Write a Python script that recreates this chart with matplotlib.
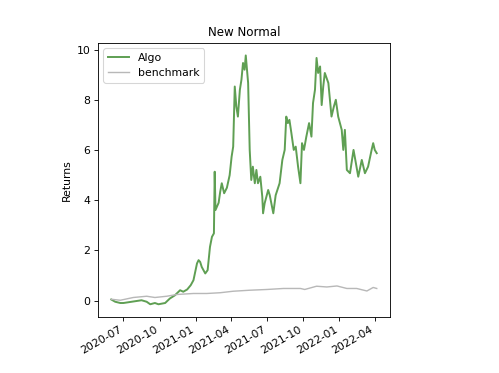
import matplotlib
matplotlib.use("Agg")
import matplotlib.pyplot as plt
import matplotlib.dates as mdates
import pandas as pd

algo_dates = ["2020-05-31", "2020-06-10", "2020-06-23", "2020-07-01", "2020-07-26", "2020-08-16",
              "2020-08-29", "2020-09-07", "2020-09-19", "2020-09-28", "2020-10-15", "2020-10-27",
              "2020-11-09", "2020-11-22", "2020-11-30", "2020-12-10", "2020-12-19", "2020-12-26",
              "2021-01-04", "2021-01-08", "2021-01-12", "2021-01-16", "2021-01-25", "2021-01-31",
              "2021-02-06", "2021-02-11", "2021-02-16", "2021-02-18", "2021-02-20", "2021-02-28",
              "2021-03-04", "2021-03-08", "2021-03-14", "2021-03-21", "2021-03-28", "2021-04-02",
              "2021-04-06", "2021-04-10", "2021-04-14", "2021-04-18", "2021-04-23", "2021-04-27",
              "2021-05-01", "2021-05-05", "2021-05-08", "2021-05-14", "2021-05-18", "2021-05-22",
              "2021-05-26", "2021-05-31", "2021-06-04", "2021-06-08", "2021-06-14", "2021-06-19",
              "2021-06-21", "2021-06-25", "2021-07-04", "2021-07-08", "2021-07-17", "2021-07-23",
              "2021-08-02", "2021-08-09", "2021-08-15", "2021-08-19", "2021-08-23", "2021-08-27",
              "2021-09-01", "2021-09-07", "2021-09-12", "2021-09-18", "2021-09-24", "2021-09-28",
              "2021-10-03", "2021-10-09", "2021-10-16", "2021-10-22", "2021-10-26", "2021-10-31",
              "2021-11-04", "2021-11-08", "2021-11-13", "2021-11-17", "2021-11-21", "2021-11-25",
              "2021-12-04", "2021-12-12", "2021-12-18", "2021-12-23", "2021-12-29", "2022-01-07",
              "2022-01-11", "2022-01-15", "2022-01-20", "2022-01-28", "2022-02-06", "2022-02-12",
              "2022-02-18", "2022-02-27", "2022-03-07", "2022-03-15", "2022-03-24", "2022-03-28",
              "2022-04-01", "2022-04-06"]
algo_values = [0.04, -0.05, -0.1, -0.1, -0.04, 0.01,
               -0.05, -0.15, -0.1, -0.15, -0.1, 0.08,
               0.21, 0.41, 0.35, 0.44, 0.61, 0.81,
               1.48, 1.61, 1.54, 1.34, 1.08, 1.21,
               2.14, 2.54, 2.68, 5.14, 3.61, 3.9,
               4.34, 4.68, 4.28, 4.5, 5.0, 5.74,
               6.14, 8.54, 7.74, 7.34, 8.41, 8.81,
               9.48, 9.21, 9.78, 8.68, 6.01, 4.81,
               5.34, 4.68, 5.21, 4.68, 4.94, 4.14,
               3.48, 3.88, 4.41, 4.2, 3.48, 4.2,
               4.68, 5.61, 6.01, 7.34, 7.08, 7.21,
               6.68, 6.01, 6.14, 5.34, 4.68, 6.28,
               6.01, 6.54, 7.08, 6.54, 7.88, 8.41,
               9.68, 9.08, 9.34, 7.8, 8.54, 9.08,
               8.68, 7.34, 7.74, 8.01, 7.34, 6.81,
               6.01, 6.81, 5.21, 5.08, 6.01, 5.48,
               4.94, 5.61, 5.08, 5.34, 6.01, 6.28,
               6.01, 5.88]

bench_dates = ["2020-05-31", "2020-06-23", "2020-07-26", "2020-08-29", "2020-09-19", "2020-10-19",
               "2020-11-14", "2020-12-26", "2021-01-29", "2021-03-04", "2021-04-06", "2021-05-18",
               "2021-07-01", "2021-08-12", "2021-09-24", "2021-10-05", "2021-11-04", "2021-11-30",
               "2021-12-26", "2022-01-20", "2022-02-14", "2022-03-12", "2022-03-28", "2022-04-06"]
bench_values = [0.05, 0.01, 0.12, 0.17, 0.12, 0.17,
                0.24, 0.28, 0.28, 0.31, 0.37, 0.41,
                0.44, 0.48, 0.48, 0.44, 0.57, 0.54,
                0.58, 0.48, 0.48, 0.38, 0.52, 0.48]

title = "New Normal"
ylabel = "Returns"

fig = plt.figure(figsize=(499 / 78, 373 / 78), dpi=78)
ax = fig.add_axes([98 / 499, 1 - 316.7 / 373, 292 / 499, (316.7 - 43) / 373])
ax.plot(pd.to_datetime(algo_dates), algo_values, color="#5f9f53", lw=1.8, label="Algo")
ax.plot(pd.to_datetime(bench_dates), bench_values, color="#b8b8b8", lw=1.3, label="benchmark")
ax.set_title(title, fontsize=11)
ax.set_ylabel(ylabel, fontsize=10)
ax.xaxis.set_major_locator(mdates.MonthLocator(bymonth=[1, 4, 7, 10]))
ax.xaxis.set_major_formatter(mdates.DateFormatter("%Y-%m"))
for lab in ax.get_xticklabels():
    lab.set_rotation(30)
    lab.set_ha("right")
ax.legend(loc="upper left")
fig.savefig("out.png", dpi=78)
